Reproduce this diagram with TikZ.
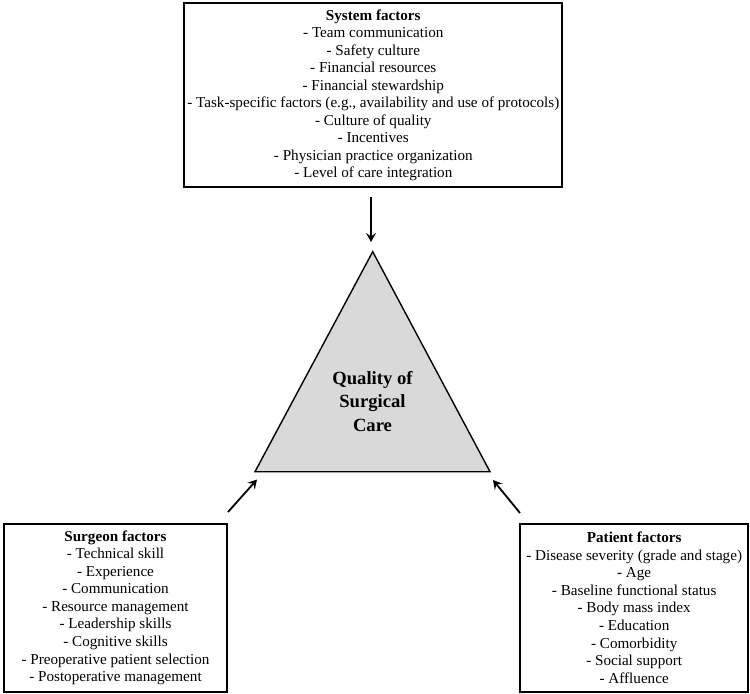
\documentclass[tikz,border=0pt]{standalone}
\usepackage{fontspec}
\setmainfont{Liberation Serif}
\usetikzlibrary{arrows.meta}
\definecolor{trigray}{HTML}{D9D9D9}
\tikzset{
  factorbox/.style={draw=black, line width=1.8bp, inner sep=0pt, align=center,
    font=\fontsize{15.2}{17.6}\selectfont},
  inflow/.style={line width=1.8bp, -{Stealth[length=9bp,width=10bp,inset=3.5bp]}},
  trianglefill/.style={fill=trigray, draw=black, line width=1.4bp, line join=miter},
}
\begin{document}
\begin{tikzpicture}[x=1bp,y=-1bp]
\useasboundingbox (0,0) rectangle (750,694);
% triangle
\coordinate (apex) at (372.7,251.7);
\coordinate (bl) at (255,471.7);
\coordinate (br) at (490,471.7);
\draw[trianglefill] (apex) -- (bl) -- (br) -- cycle;
\node[align=center, font=\fontsize{18.7}{23.3}\selectfont\bfseries] (quality) at (372.5,401.5)
  {Quality of\\Surgical\\Care};
% boxes
\node[factorbox, minimum width=378bp, minimum height=184bp] (system) at (373.3,95.3)
  {\textbf{System factors}\\
   - Team communication\\
   - Safety culture\\
   - Financial resources\\
   - Financial stewardship\\
   - Task-specific factors (e.g., availability and use of protocols)\\
   - Culture of quality\\
   - Incentives\\
   - Physician practice organization\\
   - Level of care integration};
\node[factorbox, minimum width=223bp, minimum height=168bp] (surgeon) at (115.5,607.7)
  {\textbf{Surgeon factors}\\
   - Technical skill\\
   - Experience\\
   - Communication\\
   - Resource management\\
   - Leadership skills\\
   - Cognitive skills\\
   - Preoperative patient selection\\
   - Postoperative management};
\node[factorbox, minimum width=228bp, minimum height=168bp] (patient) at (634.2,607.7)
  {\textbf{Patient factors}\\
   - Disease severity (grade and stage)\\
   - Age\\
   - Baseline functional status\\
   - Body mass index\\
   - Education\\
   - Comorbidity\\
   - Social support\\
   - Affluence};
% arrows
\coordinate (systail) at (371,197);
\coordinate (syshead) at (371,242);
\coordinate (surtail) at (228,512);
\coordinate (surhead) at (257,479.5);
\coordinate (pattail) at (520,513);
\coordinate (pathead) at (493,480);
\draw[inflow] (systail) -- (syshead);
\draw[inflow] (surtail) -- (surhead);
\draw[inflow] (pattail) -- (pathead);
\end{tikzpicture}
\end{document}
